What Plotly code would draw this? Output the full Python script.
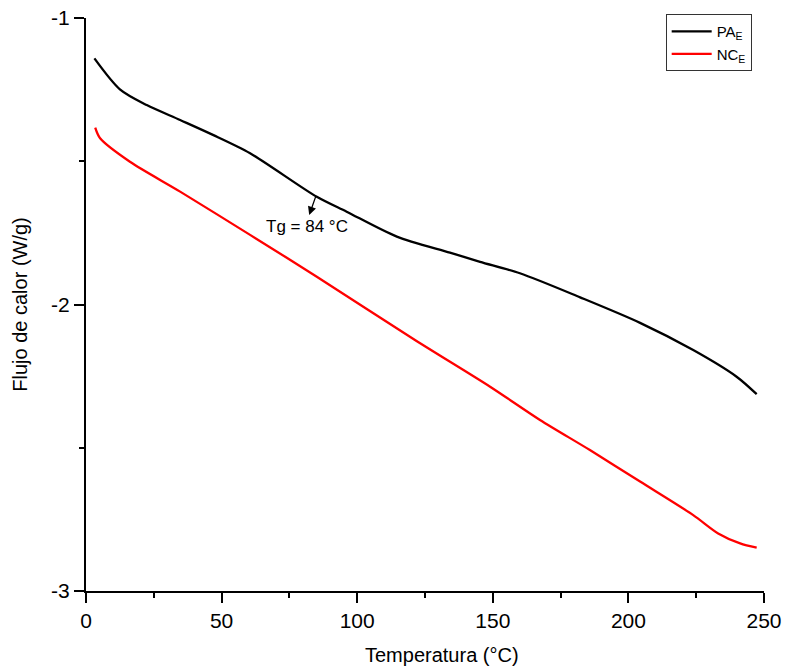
import plotly.graph_objects as go

# Data
temp_pa = [3.1, 12.5, 22.4, 34.7, 46.8, 60.5, 85.1, 96.1, 114.6, 134.2, 145.3,
           160.0, 182.2, 204.3, 223.9, 239.9, 247.3]
flux_pa = [-1.141, -1.249, -1.304, -1.356, -1.408, -1.472, -1.624, -1.676, -1.763,
           -1.819, -1.851, -1.891, -1.975, -2.064, -2.159, -2.252, -2.313]

temp_nc = [3.4, 5.2, 16.2, 34.7, 60.5, 85.1, 121.3, 149.0, 167.4, 185.8,
           204.3, 223.9, 233.1, 241.2, 247.3]
flux_nc = [-1.383, -1.420, -1.502, -1.606, -1.757, -1.903, -2.124, -2.287,
           -2.403, -2.508, -2.618, -2.735, -2.799, -2.834, -2.849]

x_ticks = [0, 50, 100, 150, 200, 250]
y_ticks = [-3, -2, -1]
y_tick_labels = ["-3", "-2", "-1"]

x_title = "Temperatura (°C)"
y_title = "Flujo de calor (W/g)"
tg_label = "Tg = 84 °C"
tg_point = (82.3, -1.688)

FONT = "Liberation Sans, Arial, sans-serif"

fig = go.Figure()
fig.add_trace(go.Scatter(x=temp_pa, y=flux_pa, mode="lines", name="PA<sub>E</sub>",
                         line=dict(color="black", width=2.3, shape="spline", smoothing=0.8)))
fig.add_trace(go.Scatter(x=temp_nc, y=flux_nc, mode="lines", name="NC<sub>E</sub>",
                         line=dict(color="red", width=2.3, shape="spline", smoothing=0.8)))

fig.add_annotation(x=tg_point[0], y=tg_point[1], xref="x", yref="y", text="",
                   showarrow=True, arrowhead=2, arrowsize=1.3, arrowwidth=1.3,
                   arrowcolor="black", ax=7, ay=-20)
fig.add_annotation(x=tg_point[0] - 0.8, y=tg_point[1] - 0.04, xref="x", yref="y",
                   text=tg_label, showarrow=False, xanchor="center", yanchor="middle",
                   font=dict(family=FONT, size=17, color="black"))
# x-axis title (slightly right of the plot centre, as in the reference)
fig.add_annotation(x=0.525, y=-0.112, xref="paper", yref="paper", text=x_title,
                   showarrow=False, xanchor="center", yanchor="middle",
                   font=dict(family=FONT, size=20, color="black"))

fig.update_layout(
    width=785, height=670,
    margin=dict(l=86, r=21, t=18, b=79, autoexpand=False),
    paper_bgcolor="white", plot_bgcolor="white",
    font=dict(family=FONT, color="black"),
    showlegend=True,
    legend=dict(xref="container", yref="container", x=0.848, y=0.979,
                xanchor="left", yanchor="top",
                bordercolor="#333", borderwidth=1, bgcolor="white",
                font=dict(family=FONT, size=15), tracegroupgap=0,
                itemwidth=40),
    xaxis=dict(range=[0, 250], tickvals=x_ticks, showgrid=False, zeroline=False,
               automargin=False, ticklabeloverflow="allow",
               showline=True, linecolor="black", linewidth=2,
               ticks="outside", ticklen=10, tickwidth=2, tickcolor="black",
               minor=dict(ticks="outside", ticklen=5, tickwidth=2, dtick=25, tickcolor="black"),
               tickfont=dict(family=FONT, size=21)),
    yaxis=dict(range=[-3, -1], tickvals=y_ticks, ticktext=y_tick_labels,
               showgrid=False, zeroline=False, automargin=False, ticklabeloverflow="allow",
               showline=True, linecolor="black", linewidth=2,
               ticks="outside", ticklen=10, tickwidth=2, tickcolor="black",
               minor=dict(ticks="outside", ticklen=5, tickwidth=2, dtick=0.5, tickcolor="black"),
               tickfont=dict(family=FONT, size=21),
               title=dict(text=y_title, font=dict(family=FONT, size=20), standoff=18)),
)

fig.write_html("out.html", config={"displayModeBar": False},
               post_script="document.body.style.margin='0';")
